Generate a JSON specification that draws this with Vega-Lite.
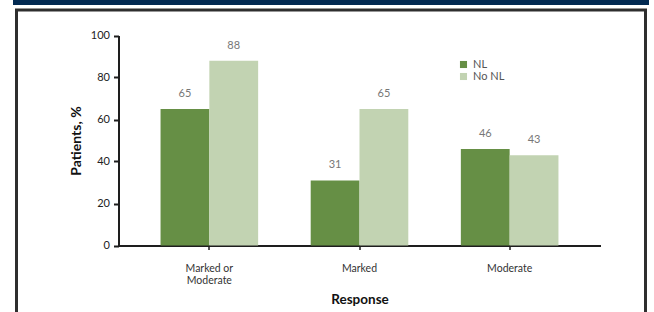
{
  "$schema": "https://vega.github.io/schema/vega-lite/v6.json",
  "background": "white",
  "padding": {"left": 13, "top": 0, "right": 0, "bottom": 0},
  "spacing": 5,
  "center": true,
  "bounds": "flush",
  "config": {
    "font": "Lato",
    "view": {"stroke": "#2e2e2e", "strokeWidth": 3, "fill": "white"},
    "axis": {"grid": false, "domainColor": "#1e1e1e", "tickColor": "#1e1e1e", "labelColor": "#222222", "titleColor": "#111111", "labelFont": "Lato", "titleFont": "Lato"}
  },
  "vconcat": [
    {
      "width": 636,
      "height": 5,
      "data": {"values": [{"band": "top"}]},
      "mark": {"type": "rect", "color": "#022a52"},
      "encoding": {},
      "view": {"stroke": null, "fill": null}
    },
    {
      "width": 629,
      "height": 310,
      "data": {
        "values": [
          {"response": "Marked or Moderate", "group": "NL", "value": 65},
          {"response": "Marked or Moderate", "group": "No NL", "value": 88},
          {"response": "Marked", "group": "NL", "value": 31},
          {"response": "Marked", "group": "No NL", "value": 65},
          {"response": "Moderate", "group": "NL", "value": 46},
          {"response": "Moderate", "group": "No NL", "value": 43}
        ]
      },
      "encoding": {
        "x": {
          "field": "response",
          "type": "nominal",
          "sort": ["Marked or Moderate", "Marked", "Moderate"],
          "scale": {"range": [102, 584], "paddingInner": 0.35, "paddingOuter": 0.28},
          "axis": {
            "title": "Response",
            "labelAngle": 0,
            "offset": -74.5,
            "domainWidth": 2,
            "tickSize": 4,
            "tickWidth": 1.5,
            "labelPadding": 14,
            "labelFontSize": 10.5,
            "labelColor": "#333333",
            "labelLineHeight": 12,
            "labelBaseline": "top",
            "labelExpr": "datum.label == 'Marked or Moderate' ? ['Marked or', 'Moderate'] : datum.label",
            "titleFontSize": 13.5,
            "titleFontWeight": "bold",
            "titlePadding": 6
          }
        },
        "xOffset": {"field": "group", "type": "nominal", "sort": ["NL", "No NL"]},
        "y": {
          "field": "value",
          "type": "quantitative",
          "scale": {"domain": [0, 100], "range": [235.5, 25.5], "nice": false},
          "axis": {
            "title": "Patients, %",
            "values": [0, 20, 40, 60, 80, 100],
            "offset": -102,
            "domainWidth": 2,
            "tickSize": 5,
            "tickWidth": 2,
            "labelPadding": 4,
            "labelFontSize": 11,
            "titleFontSize": 14,
            "titleFontWeight": "bold",
            "titlePadding": 7
          }
        }
      },
      "layer": [
        {
          "mark": {"type": "bar"},
          "encoding": {
            "color": {
              "field": "group",
              "type": "nominal",
              "scale": {"domain": ["NL", "No NL"], "range": ["#668f45", "#c2d3b2"]},
              "legend": {
                "title": null,
                "orient": "none",
                "legendX": 445,
                "legendY": 59,
                "symbolType": "square",
                "symbolSize": 50,
                "symbolStrokeWidth": 0,
                "labelFontSize": 11,
                "labelColor": "#555555",
                "labelOffset": 4,
                "rowPadding": 0,
                "padding": 0
              }
            }
          }
        },
        {
          "mark": {"type": "text", "baseline": "middle", "dy": -15, "fontSize": 11, "color": "#777777"},
          "encoding": {"text": {"field": "value", "type": "quantitative"}}
        }
      ]
    }
  ]
}
